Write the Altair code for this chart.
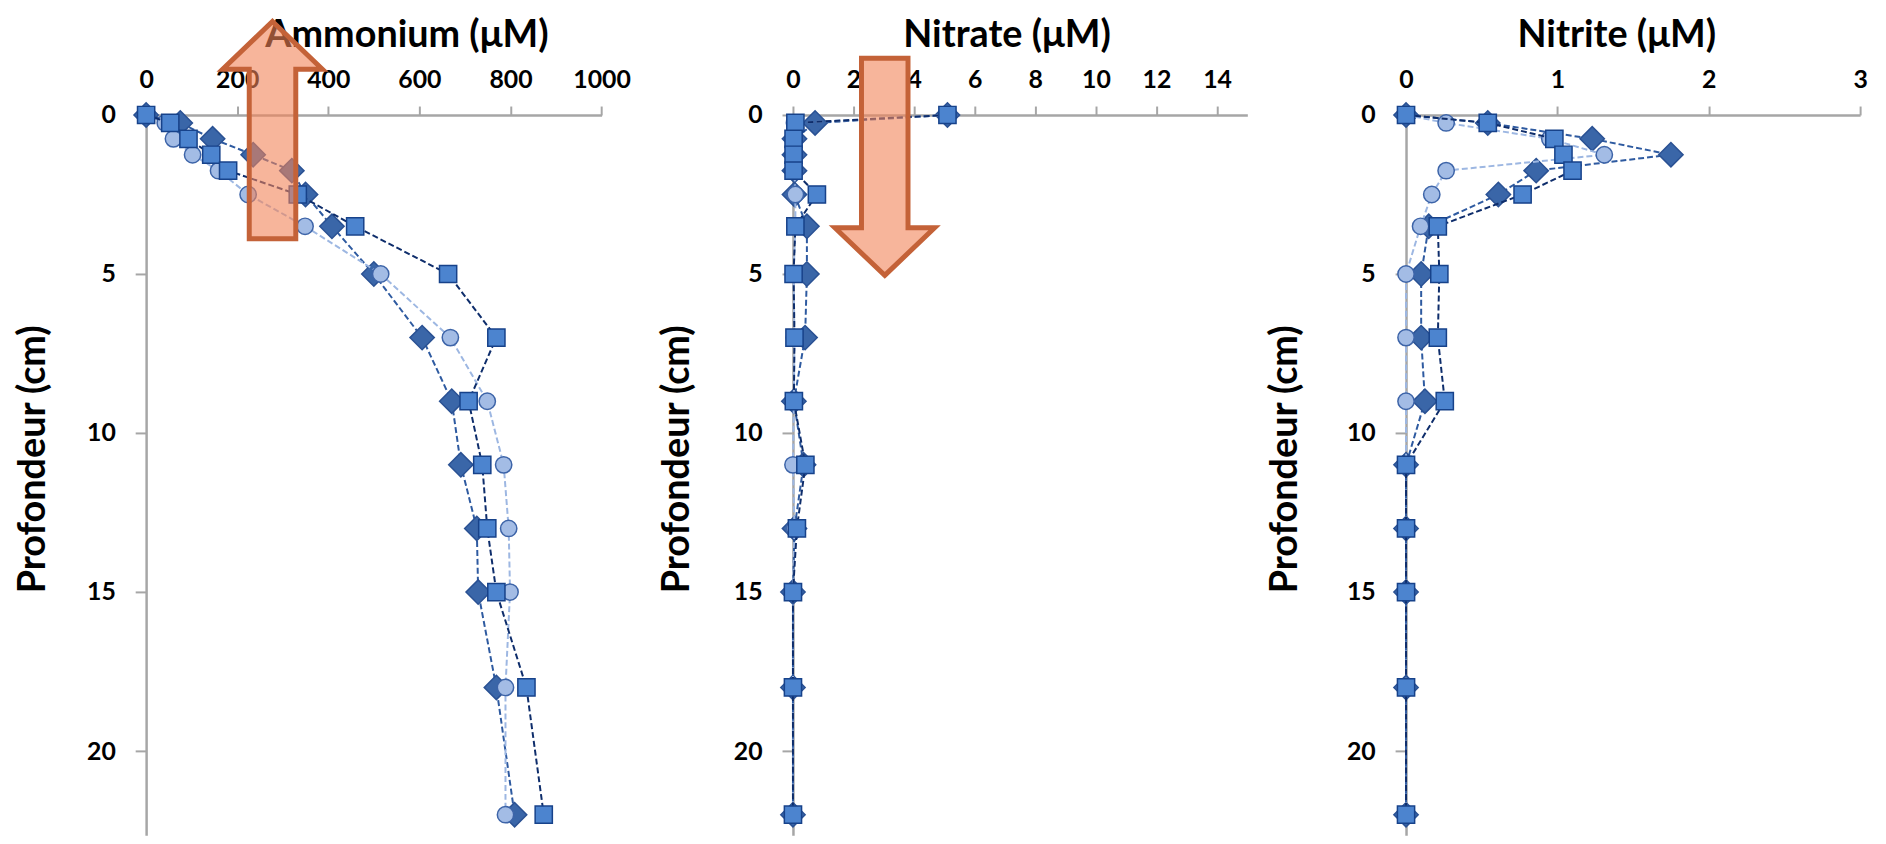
import altair as alt
import pandas as pd

# ---- data ----
depth = [0, 0.25, 0.75, 1.25, 1.75, 2.5, 3.5, 5, 7, 9, 11, 13, 15, 18, 22]

amm_diamond = [0, 75, 146, 235, 320, 350, 408, 500, 606, 671, 691, 726, 729, 769, 809]
amm_circle = [0, 42, 60, 102, 159, 224, 349, 515, 668, 749, 785, 796, 799, 789, 789]
amm_square = [0, 53, 93, 143, 180, 333, 459, 663, 769, 708, 738, 749, 769, 835, 873]

nat_diamond = [5.1, 0.73, 0.05, 0.05, 0.05, 0.05, 0.46, 0.46, 0.40, 0.03, 0.35, 0.05, 0.0, 0.0, 0.0]
nat_circle = [5.1, 0.05, 0.05, 0.05, 0.05, 0.08, 0.08, 0.02, 0.05, 0.03, 0.0, 0.05, 0.0, 0.0, 0.0]
nat_square = [5.1, 0.08, 0.02, 0.02, 0.02, 0.79, 0.08, 0.02, 0.05, 0.03, 0.41, 0.13, 0.0, 0.0, 0.0]

nit_diamond = [0, 0.54, 1.23, 1.75, 0.86, 0.61, 0.15, 0.10, 0.10, 0.125, 0, 0, 0, 0, 0]
nit_circle = [0, 0.265, 0.95, 1.31, 0.265, 0.17, 0.096, 0, 0, 0, 0, 0, 0, 0, 0]
nit_square = [0, 0.54, 0.98, 1.04, 1.10, 0.77, 0.21, 0.22, 0.21, 0.256, 0, 0, 0, 0, 0]

panel_titles = ["Ammonium (μM)", "Nitrate (μM)", "Nitrite (μM)"]
panel_domains = [[0, 1000], [0, 15], [0, 3]]
panel_ticks = [[0, 200, 400, 600, 800, 1000], [0, 2, 4, 6, 8, 10, 12, 14], [0, 1, 2, 3]]
series_names = ["diamond", "circle", "square"]

# annotation arrows (data units of their panel)
arrow_panel = [0, 1]
arrow_value = [277.5, 3.03]
arrow_depth = [0.475, 1.63]
arrow_dir = ["up", "down"]

# ---- styles ----
panel_range = [458.4, 457.3, 457.0]
panel_width = [650.4, 616.3, 470.0]
panel_title_x = [262, 215, 211.6]
panel_ytitle_x = [-94, -97, -102]

styles = {
    "diamond": dict(shape="diamond", size=600, fill="#3A66A8", stroke="#2A5193",
                    line="#2E5AA0"),
    "circle": dict(shape="circle", size=270, fill="#A3BCE5", stroke="#3D64A8",
                   line="#9DB7E2"),
    "square": dict(shape="square", size=300, fill="#4C84CF", stroke="#17428A",
                   line="#0E2D6B"),
}

UP = "M 0 -0.98 L 0.45 -0.55 L 0.21 -0.55 L 0.21 0.98 L -0.21 0.98 L -0.21 -0.55 L -0.45 -0.55 Z"
DOWN = "M 0 0.98 L 0.45 0.55 L 0.21 0.55 L 0.21 -0.98 L -0.21 -0.98 L -0.21 0.55 L -0.45 0.55 Z"

values_by_panel = [
    {"diamond": amm_diamond, "circle": amm_circle, "square": amm_square},
    {"diamond": nat_diamond, "circle": nat_circle, "square": nat_square},
    {"diamond": nit_diamond, "circle": nit_circle, "square": nit_square},
]

panels = []
for p in range(3):
    X = alt.X(
        "value:Q",
        scale=alt.Scale(domain=panel_domains[p], range=[0, panel_range[p]], nice=False, zero=False),
        axis=alt.Axis(
            orient="top", values=panel_ticks[p], format="d", title=panel_titles[p],
            titleX=panel_title_x[p], titleY=-69, titleBaseline="alphabetic", titleAlign="center",
            tickSize=9, labelPadding=18.6, labelBaseline="alphabetic",
            labelFlush=False, labelOverlap=False,
        ),
    )
    Y = alt.Y(
        "depth:Q",
        scale=alt.Scale(domain=[0, 22.65], reverse=True, nice=False, zero=False),
        axis=alt.Axis(
            values=[0, 5, 10, 15, 20], title="Profondeur (cm)",
            titleAngle=270, titleX=panel_ytitle_x[p], titleY=346, titleBaseline="bottom",
            titleAlign="center",
            tickSize=11, labelPadding=20, labelAlign="right", labelBaseline="middle",
            labelFlush=False, labelOverlap=False,
        ),
    )
    layers = []
    for s in series_names:
        df = pd.DataFrame({"depth": depth, "value": values_by_panel[p][s]})
        st = styles[s]
        layers.append(
            alt.Chart(df).mark_line(strokeDash=[6, 3], strokeWidth=2, color=st["line"])
            .encode(x=X, y=Y, order="depth:Q")
        )
        layers.append(
            alt.Chart(df).mark_point(
                shape=st["shape"], size=st["size"], filled=True, fill=st["fill"],
                stroke=st["stroke"], strokeWidth=1.5, opacity=1,
            ).encode(x=X, y=Y)
        )
    for i, ap in enumerate(arrow_panel):
        if ap == p:
            adf = pd.DataFrame({"depth": [arrow_depth[i]], "value": [arrow_value[i]]})
            layers.append(
                alt.Chart(adf).mark_point(
                    shape=UP if arrow_dir[i] == "up" else DOWN, size=49729, filled=True,
                    fill="#F28458", fillOpacity=0.6, stroke="#C46238", strokeWidth=5,
                    strokeOpacity=1, opacity=1,
                ).encode(x=X, y=Y)
            )
    panels.append(alt.layer(*layers).properties(width=panel_width[p], height=725))

chart = (
    alt.hconcat(*panels, spacing=0, bounds="flush")
    .properties(padding={"left": 7, "top": 0, "right": 5, "bottom": 0})
    .configure_view(stroke=None)
    .configure_axis(
        grid=False, domainColor="#A6A6A6", domainWidth=2.5, tickColor="#A6A6A6", tickWidth=2,
        labelFont="Lato", labelFontSize=25, labelFontWeight="bold", labelColor="#000000",
        titleFont="Lato", titleFontSize=38, titleFontWeight="bold", titleColor="#000000",
    )
)

chart.save("out.html", embed_options={"renderer": "svg", "actions": False})
